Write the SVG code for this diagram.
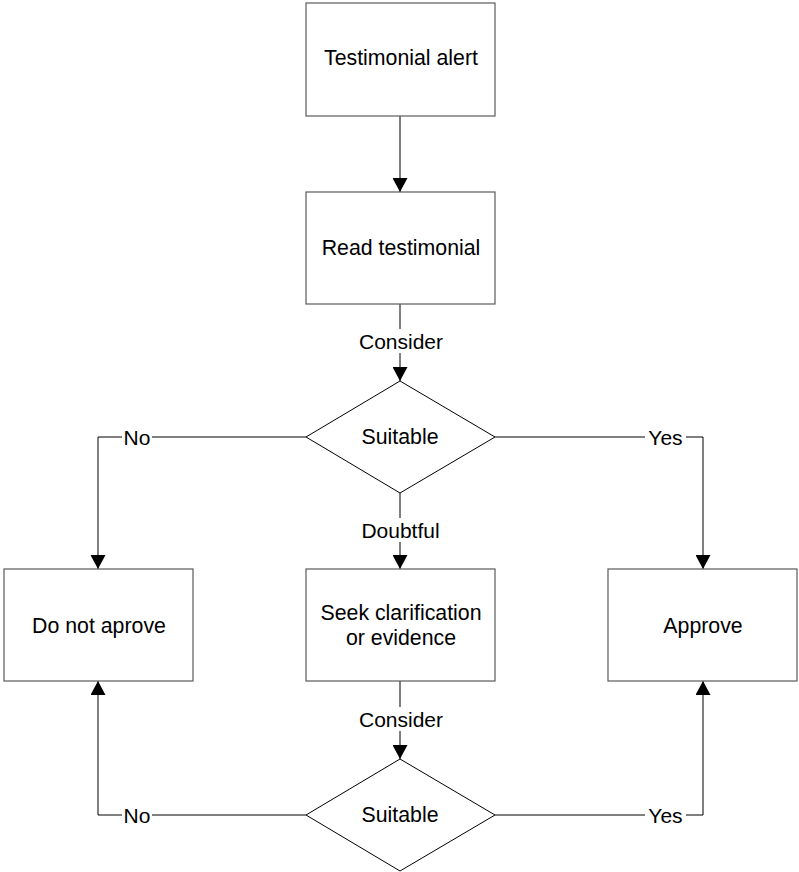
<svg xmlns="http://www.w3.org/2000/svg" width="799" height="872" viewBox="0 0 799 872">
  <style>
    .box { fill: #ffffff; stroke: #5a5a5a; stroke-width: 1.2; }
    .dia { fill: #ffffff; stroke: #000000; stroke-width: 1; }
    .lbl { font-family: "Liberation Sans", Arial, sans-serif; font-size: 21.3px; fill: #000000; text-anchor: middle; dominant-baseline: central; }
    .edge { fill: none; stroke: #000000; stroke-width: 1; }
    .tag { font-family: "Liberation Sans", Arial, sans-serif; font-size: 21px; fill: #000000; text-anchor: middle; dominant-baseline: central; }
  </style>
  <defs>
    <marker id="arrow" markerWidth="16" markerHeight="15" refX="14" refY="7.5" orient="auto" markerUnits="userSpaceOnUse">
      <path d="M0,0 L14,7.5 L0,15 Z" fill="#000000"/>
    </marker>
  </defs>
  <rect width="799" height="872" fill="#ffffff"/>

  <g id="connectors">
    <line class="edge" x1="400" y1="116" x2="400" y2="192" marker-end="url(#arrow)"/>
    <line class="edge" x1="400" y1="304" x2="400" y2="381" marker-end="url(#arrow)"/>
    <polyline class="edge" points="306,437 98,437 98,569" marker-end="url(#arrow)"/>
    <polyline class="edge" points="495,437 703,437 703,569" marker-end="url(#arrow)"/>
    <line class="edge" x1="400" y1="493" x2="400" y2="569" marker-end="url(#arrow)"/>
    <line class="edge" x1="400" y1="681" x2="400" y2="759" marker-end="url(#arrow)"/>
    <polyline class="edge" points="306,815 98,815 98,681" marker-end="url(#arrow)"/>
    <polyline class="edge" points="495,815 703,815 703,681" marker-end="url(#arrow)"/>

    <g id="edge-labels">
      <rect x="356" y="329" width="90" height="24" fill="#ffffff"/>
      <text class="tag" x="401" y="341">Consider</text>
      <rect x="122" y="426" width="30" height="22" fill="#ffffff"/>
      <text class="tag" x="137" y="437">No</text>
      <rect x="645" y="426" width="41" height="22" fill="#ffffff"/>
      <text class="tag" x="665.5" y="437">Yes</text>
      <rect x="358" y="518" width="86" height="24" fill="#ffffff"/>
      <text class="tag" x="400.5" y="530">Doubtful</text>
      <rect x="356" y="707" width="90" height="24" fill="#ffffff"/>
      <text class="tag" x="401" y="719">Consider</text>
      <rect x="122" y="804" width="30" height="22" fill="#ffffff"/>
      <text class="tag" x="137" y="815">No</text>
      <rect x="645" y="804" width="41" height="22" fill="#ffffff"/>
      <text class="tag" x="665.5" y="815">Yes</text>
    </g>
  </g>

  <g id="testimonial-alert">
    <rect class="box" x="306" y="3" width="189" height="113"/>
    <text class="lbl" x="401" y="58">Testimonial alert</text>
  </g>
  <g id="read-testimonial">
    <rect class="box" x="306" y="192" width="189" height="112"/>
    <text class="lbl" x="401" y="248">Read testimonial</text>
  </g>
  <g id="suitable-1">
    <polygon class="dia" points="400,381 495,437 400,493 306,437"/>
    <text class="lbl" x="400" y="437">Suitable</text>
  </g>
  <g id="do-not-approve">
    <rect class="box" x="4" y="569" width="189" height="112"/>
    <text class="lbl" x="99" y="626">Do not aprove</text>
  </g>
  <g id="seek-clarification">
    <rect class="box" x="306" y="569" width="189" height="112"/>
    <text class="lbl" x="401" y="613">Seek clarification</text>
    <text class="lbl" x="401" y="638">or evidence</text>
  </g>
  <g id="approve">
    <rect class="box" x="608" y="569" width="189" height="112"/>
    <text class="lbl" x="703" y="626">Approve</text>
  </g>
  <g id="suitable-2">
    <polygon class="dia" points="400,759 495,815 400,871 306,815"/>
    <text class="lbl" x="400" y="815">Suitable</text>
  </g>
</svg>
